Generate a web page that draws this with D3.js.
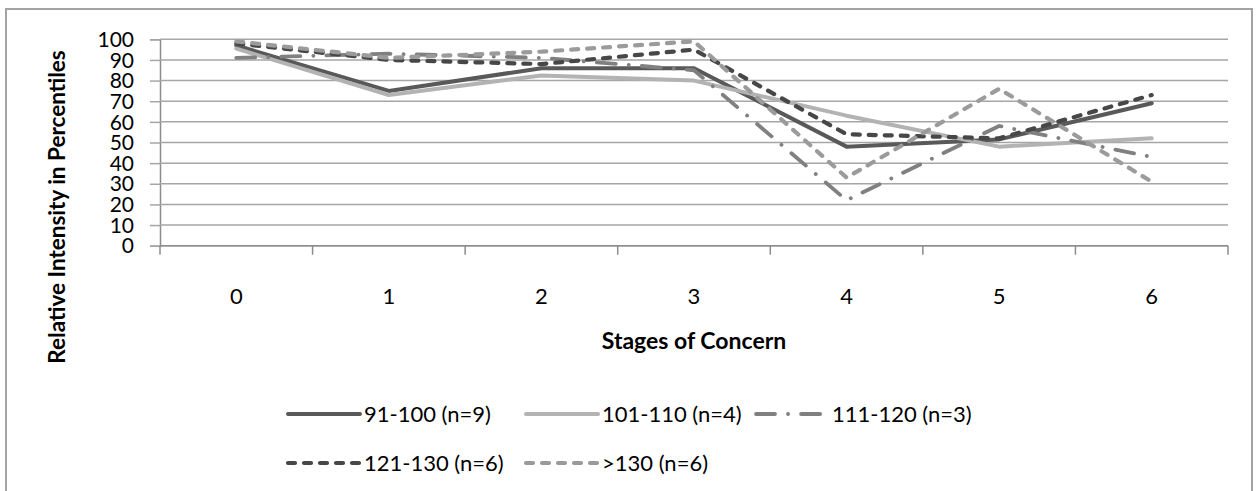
<!DOCTYPE html>
<html>
<head>
<meta charset="utf-8">
<script src="https://cdn.jsdelivr.net/npm/d3@7"></script>
<style>
  html, body { margin: 0; padding: 0; background: #ffffff; }
  svg { display: block; }
  text { font-family: Lato, "Open Sans", sans-serif; fill: #000; }
</style>
</head>
<body>
<svg id="chart" width="1257" height="491"></svg>
<script>
// Stages of Concern on the x axis, relative intensity (percentile) on the y axis
const stages = ["0", "1", "2", "3", "4", "5", "6"];
const yTicks = [0, 10, 20, 30, 40, 50, 60, 70, 80, 90, 100];

const seriesNames = ["91-100 (n=9)", "101-110 (n=4)", "111-120 (n=3)", "121-130 (n=6)", ">130 (n=6)"];
const g91to100   = [97, 75, 86, 86, 48, 51.5, 69];
const g101to110  = [95.5, 73, 82.5, 80, 63, 48, 52];
const g111to120  = [91, 93, 91, 85, 22, 58, 43];
const g121to130  = [98, 90, 88, 95, 54, 52, 73];
const gOver130   = [99, 91, 94, 99, 33, 76, 31];

const seriesValues = [g91to100, g101to110, g111to120, g121to130, gOver130];

// line styling per series (grayscale palette)
const styles = [
  { color: "#595959", width: 4,   dash: null },
  { color: "#b3b3b3", width: 4,   dash: null },
  { color: "#808080", width: 3.8, dash: "19,13,0.1,13" },
  { color: "#474747", width: 4.2, dash: "7,9" },
  { color: "#9b9b9b", width: 4.2, dash: "7,9" }
];

const svg = d3.select("#chart");

// chart frame
svg.append("rect")
  .attr("x", 6).attr("y", 9)
  .attr("width", 1246).attr("height", 500)
  .attr("fill", "#fff")
  .attr("stroke", "#a3a3a3")
  .attr("stroke-width", 2);

const plot = { left: 160, right: 1228, top: 39.3, bottom: 245.7 };

const x = d3.scaleBand().domain(stages).range([plot.left, plot.right]).padding(0);
const y = d3.scaleLinear().domain([0, 100]).range([plot.bottom, plot.top]);
const cx = d => x(d) + x.bandwidth() / 2;

// outside tick marks and labels on the value axis
const yAxis = svg.append("g")
  .attr("transform", `translate(${plot.left},0)`)
  .call(d3.axisLeft(y).tickValues(yTicks).tickSize(10).tickPadding(16));
yAxis.select(".domain").attr("stroke", "#8c8c8c").attr("stroke-width", 1.5);
yAxis.selectAll(".tick line").attr("stroke", "#a6a6a6").attr("stroke-width", 1.5);
yAxis.selectAll(".tick text")
  .attr("font-size", 21)
  .attr("dy", "0.34em")
  .style("font-family", "Lato, 'Open Sans', sans-serif")
  .attr("fill", "#000");

// horizontal gridlines
svg.append("g")
  .selectAll("line")
  .data(yTicks)
  .join("line")
  .attr("x1", plot.left).attr("x2", plot.right)
  .attr("y1", d => y(d)).attr("y2", d => y(d))
  .attr("stroke", "#a6a6a6")
  .attr("stroke-width", 1.5);

// category axis: ticks at band edges, labels at band centres
const xAxis = svg.append("g");
xAxis.append("line")
  .attr("x1", plot.left).attr("x2", plot.right)
  .attr("y1", y(0)).attr("y2", y(0))
  .attr("stroke", "#8c8c8c").attr("stroke-width", 1.5);
const edges = stages.map(d => x(d)).concat([x(stages[stages.length - 1]) + x.bandwidth()]);
xAxis.selectAll("line.tick")
  .data(edges)
  .join("line")
  .attr("class", "tick")
  .attr("x1", d => d).attr("x2", d => d)
  .attr("y1", y(0)).attr("y2", y(0) + 9)
  .attr("stroke", "#8c8c8c").attr("stroke-width", 1.5);
xAxis.selectAll("text")
  .data(stages)
  .join("text")
  .attr("x", d => cx(d))
  .attr("y", 296)
  .attr("dy", "0.35em")
  .attr("text-anchor", "middle")
  .attr("font-size", 22)
  .text(d => d);

// axis titles
svg.append("text")
  .attr("x", (plot.left + plot.right) / 2)
  .attr("y", 341)
  .attr("dy", "0.35em")
  .attr("text-anchor", "middle")
  .attr("font-size", 23)
  .attr("font-weight", "bold")
  .text("Stages of Concern");

svg.append("text")
  .attr("transform", "translate(57,207) rotate(-90)")
  .attr("dy", "0.35em")
  .attr("text-anchor", "middle")
  .attr("font-size", 22.5)
  .attr("font-weight", "bold")
  .text("Relative Intensity in Percentiles");

// series lines
const line = d3.line()
  .x((d, i) => cx(stages[i]))
  .y(d => y(d));

const lines = svg.append("g");
seriesValues.forEach((vals, k) => {
  const s = styles[k];
  lines.append("path")
    .datum(vals)
    .attr("d", line)
    .attr("fill", "none")
    .attr("stroke", s.color)
    .attr("stroke-width", s.width)
    .attr("stroke-linejoin", "round")
    .attr("stroke-linecap", "round")
    .attr("stroke-dasharray", s.dash);
});

// legend: two rows, three columns
const legendCols = [286, 524, 754];
const legendRows = [414, 463];
const legend = svg.append("g");
seriesNames.forEach((name, k) => {
  const s = styles[k];
  const lx = legendCols[k % 3];
  const ly = legendRows[Math.floor(k / 3)];
  legend.append("line")
    .attr("x1", lx + 2).attr("x2", lx + 74)
    .attr("y1", ly).attr("y2", ly)
    .attr("stroke", s.color)
    .attr("stroke-width", s.width)
    .attr("stroke-linecap", "round")
    .attr("stroke-dasharray", s.dash);
  legend.append("text")
    .attr("x", lx + 78)
    .attr("y", ly)
    .attr("dy", "0.35em")
    .attr("font-size", 22)
    .text(name);
});
</script>
</body>
</html>
